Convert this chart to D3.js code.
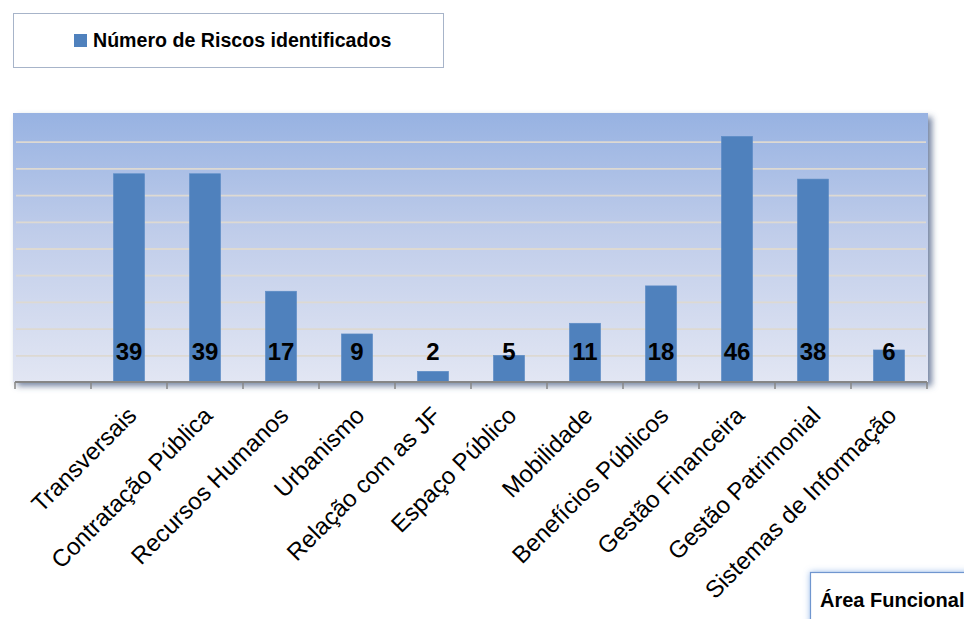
<!DOCTYPE html>
<html>
<head>
<meta charset="utf-8">
<script src="https://cdn.jsdelivr.net/npm/d3@7"></script>
<style>
  html, body { margin: 0; padding: 0; background: #ffffff; }
  svg { display: block; font-family: "Liberation Sans", Arial, sans-serif; }
</style>
</head>
<body>
<svg id="chart" width="964" height="619"></svg>
<script>
// Risk counts per functional area (first slot of the axis is left empty)
const categories = ["", "Transversais", "Contratação Pública", "Recursos Humanos", "Urbanismo",
  "Relação com as JF", "Espaço Público", "Mobilidade", "Benefícios Públicos",
  "Gestão Financeira", "Gestão Patrimonial", "Sistemas de Informação"];
const riskCounts = [null, 39, 39, 17, 9, 2, 5, 11, 18, 46, 38, 6];
const seriesName = "Número de Riscos identificados";
const axisTitle = "Área Funcional";
const yMax = 50;
const yStep = 5;

const data = categories.map((c, i) => ({ category: c, value: riskCounts[i] }));

const svg = d3.select("#chart");
const defs = svg.append("defs");

// Plot-area background gradient
const grad = defs.append("linearGradient").attr("id", "plotBg")
  .attr("x1", 0).attr("y1", 0).attr("x2", 0).attr("y2", 1);
grad.append("stop").attr("offset", "0%").attr("stop-color", "#97b2e2");
grad.append("stop").attr("offset", "45%").attr("stop-color", "#c0cdea");
grad.append("stop").attr("offset", "100%").attr("stop-color", "#e2e6f3");

// Soft shadow around the plot area
const sh = defs.append("filter").attr("id", "plotShadow")
  .attr("x", "-5%").attr("y", "-10%").attr("width", "110%").attr("height", "125%");
sh.append("feDropShadow").attr("dx", 4).attr("dy", 4).attr("stdDeviation", 3)
  .attr("flood-color", "#465c82").attr("flood-opacity", 0.75);

// Blue glow for the axis-title box
const glow = defs.append("filter").attr("id", "boxGlow")
  .attr("x", "-20%").attr("y", "-40%").attr("width", "140%").attr("height", "180%");
glow.append("feDropShadow").attr("dx", 0).attr("dy", 0).attr("stdDeviation", 3)
  .attr("flood-color", "#8fb4e8").attr("flood-opacity", 0.9);

const plot = { left: 15, right: 927, top: 115, bottom: 382 };

const x = d3.scaleBand()
  .domain(categories)
  .range([plot.left, plot.right])
  .paddingInner(0.59)
  .paddingOuter(0.295);

const y = d3.scaleLinear().domain([0, yMax]).range([plot.bottom, plot.top]);

// Plot area
svg.append("rect")
  .attr("x", 13).attr("y", 113)
  .attr("width", 915).attr("height", plot.bottom - 113)
  .attr("fill", "url(#plotBg)")
  .attr("filter", "url(#plotShadow)");

// Horizontal gridlines
const gridTicks = d3.range(yStep, yMax, yStep);
svg.append("g")
  .attr("transform", `translate(${plot.left + 1},0)`)
  .call(d3.axisLeft(y).tickValues(gridTicks).tickSize(-(plot.right - plot.left - 2)).tickFormat(""))
  .call(g => g.select(".domain").remove())
  .call(g => g.selectAll(".tick line").attr("stroke", "#ddd9d2").attr("stroke-width", 1.8));

// Bars
svg.append("g").selectAll("rect")
  .data(data.filter(d => d.value != null))
  .join("rect")
  .attr("x", d => x(d.category))
  .attr("y", d => y(d.value))
  .attr("width", x.bandwidth())
  .attr("height", d => y(0) - y(d.value))
  .attr("fill", "#4f81bd")
  .attr("stroke", "#5d8cc6")
  .attr("stroke-width", 0.6);

// Value labels at the base of each bar
svg.append("g").selectAll("text")
  .data(data.filter(d => d.value != null))
  .join("text")
  .attr("x", d => x(d.category) + x.bandwidth() / 2)
  .attr("y", y(0) - 22)
  .attr("text-anchor", "middle")
  .attr("font-size", 24)
  .attr("font-weight", "bold")
  .attr("fill", "#000")
  .text(d => d.value);

// Category axis: baseline and slot-boundary ticks
const step = x.step();
const xAxis = svg.append("g");
xAxis.append("line")
  .attr("x1", plot.left).attr("x2", plot.right)
  .attr("y1", plot.bottom).attr("y2", plot.bottom)
  .attr("stroke", "#868686").attr("stroke-width", 2);
const bounds = categories.map(c => x(c) - step * x.paddingInner() / 2).concat([plot.right]);
xAxis.selectAll(".bt").data(bounds).join("line")
  .attr("class", "bt")
  .attr("x1", d => d).attr("x2", d => d)
  .attr("y1", plot.bottom).attr("y2", plot.bottom + 7)
  .attr("stroke", "#868686").attr("stroke-width", 1.5);

// Rotated category labels
xAxis.selectAll(".cl").data(categories.filter(c => c !== "")).join("text")
  .attr("class", "cl")
  .attr("text-anchor", "end")
  .attr("font-size", 24)
  .attr("fill", "#000")
  .attr("transform", c => `translate(${x(c) + x.bandwidth() / 2 + 9},${417}) rotate(-45)`)
  .text(c => c);

// Legend
const legend = svg.append("g");
legend.append("rect")
  .attr("x", 13.5).attr("y", 13.5).attr("width", 430).attr("height", 54)
  .attr("fill", "#ffffff").attr("stroke", "#a7b4c9").attr("stroke-width", 1);
legend.append("rect")
  .attr("x", 74).attr("y", 34).attr("width", 13).attr("height", 13)
  .attr("fill", "#4f81bd");
legend.append("text")
  .attr("x", 93).attr("y", 47)
  .attr("font-size", 19.6).attr("font-weight", "bold").attr("fill", "#000")
  .text(seriesName);

// Axis title box
const titleBox = svg.append("g");
titleBox.append("rect")
  .attr("x", 810.5).attr("y", 572.5).attr("width", 170).attr("height", 60)
  .attr("fill", "#ffffff").attr("stroke", "#6f96cf").attr("stroke-width", 1.2)
  .attr("filter", "url(#boxGlow)");
titleBox.append("text")
  .attr("x", 820).attr("y", 607)
  .attr("font-size", 20).attr("font-weight", "bold").attr("fill", "#000")
  .text(axisTitle);
</script>
</body>
</html>
